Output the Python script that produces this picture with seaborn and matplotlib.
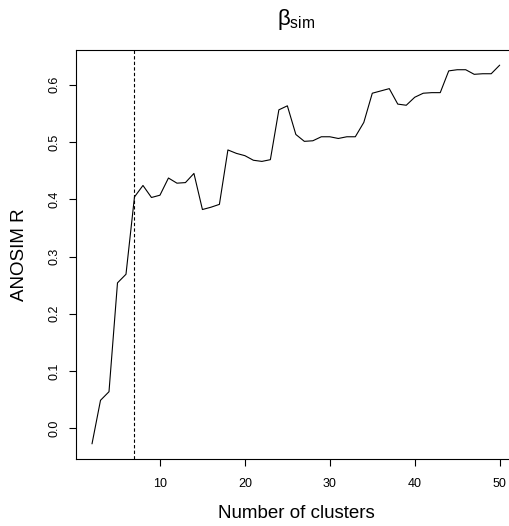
import matplotlib
matplotlib.use("Agg")
import matplotlib.pyplot as plt
import seaborn as sns
import numpy as np
import pandas as pd

# Data
n_clusters = list(range(2, 51))
anosim_r = [-0.027, 0.049, 0.064, 0.254, 0.269, 0.404, 0.424, 0.403, 0.407, 0.437,
            0.428, 0.429, 0.445, 0.382, 0.386, 0.391, 0.486, 0.480, 0.476, 0.468,
            0.466, 0.469, 0.556, 0.563, 0.513, 0.501, 0.502, 0.509, 0.509, 0.506,
            0.509, 0.509, 0.534, 0.585, 0.589, 0.593, 0.566, 0.564, 0.578, 0.585,
            0.586, 0.586, 0.624, 0.626, 0.626, 0.618, 0.619, 0.619, 0.634]
cut_k = 7
x_ticks = [10, 20, 30, 40, 50]
y_ticks = [0.0, 0.1, 0.2, 0.3, 0.4, 0.5, 0.6]
title_text = r'$\beta_{\mathrm{sim}}$'
x_label = "Number of clusters"
y_label = "ANOSIM R"

sns.set_style("ticks")
plt.rcParams['font.family'] = ['Liberation Sans', 'DejaVu Sans']
plt.rcParams['mathtext.fontset'] = 'custom'
plt.rcParams['mathtext.rm'] = 'Liberation Sans'
plt.rcParams['mathtext.it'] = 'Liberation Sans'
plt.rcParams['mathtext.bf'] = 'Liberation Sans:bold'

W, H = 510, 526
fig = plt.figure(figsize=(W / 100, H / 100), dpi=100)
left, right, top, bottom = 75.7, 516.0, 50.0, 459.0
ax = fig.add_axes([left / W, 1 - bottom / H, (right - left) / W, (bottom - top) / H])

df = pd.DataFrame({"k": n_clusters, "R": anosim_r})
sns.lineplot(data=df, x="k", y="R", ax=ax, color="black", linewidth=0.8)
ax.axvline(cut_k, color="black", linestyle=(0, (3, 2)), linewidth=0.8)

rng = max(n_clusters) - min(n_clusters)
ax.set_xlim(min(n_clusters) - 0.04 * rng, max(n_clusters) + 0.04 * rng)
yr = max(anosim_r) - min(anosim_r)
ax.set_ylim(min(anosim_r) - 0.04 * yr, max(anosim_r) + 0.04 * yr)

ax.set_xticks(x_ticks)
ax.set_xticklabels([str(t) for t in x_ticks])
ax.set_yticks(y_ticks)
ax.set_yticklabels([f"{t:.1f}" for t in y_ticks])
ax.tick_params(axis='both', direction='out', length=5, width=0.8, color='black',
               labelsize=9, labelcolor='black')
ax.tick_params(axis='x', pad=9)
ax.tick_params(axis='y', pad=6, labelrotation=90)
for lab in ax.get_yticklabels():
    lab.set_va('center')

for name, s in ax.spines.items():
    s.set_visible(name != 'right')
    s.set_color('black')
    s.set_linewidth(0.8)

ax.set_xlabel(x_label, fontsize=13.5, color='black')
ax.set_ylabel(y_label, fontsize=13.5, color='black')
ax.xaxis.set_label_coords((296 - left) / (right - left), (bottom - 513) / (bottom - top))
ax.xaxis.label.set_va('center')
ax.yaxis.set_label_coords((20 - left) / (right - left), 0.5)
ax.yaxis.label.set_va('center')

fig.text(296 / W, 1 - 25 / H, title_text, fontsize=16, ha='center', va='baseline', color='black')

fig.savefig("out.png", dpi=100)
